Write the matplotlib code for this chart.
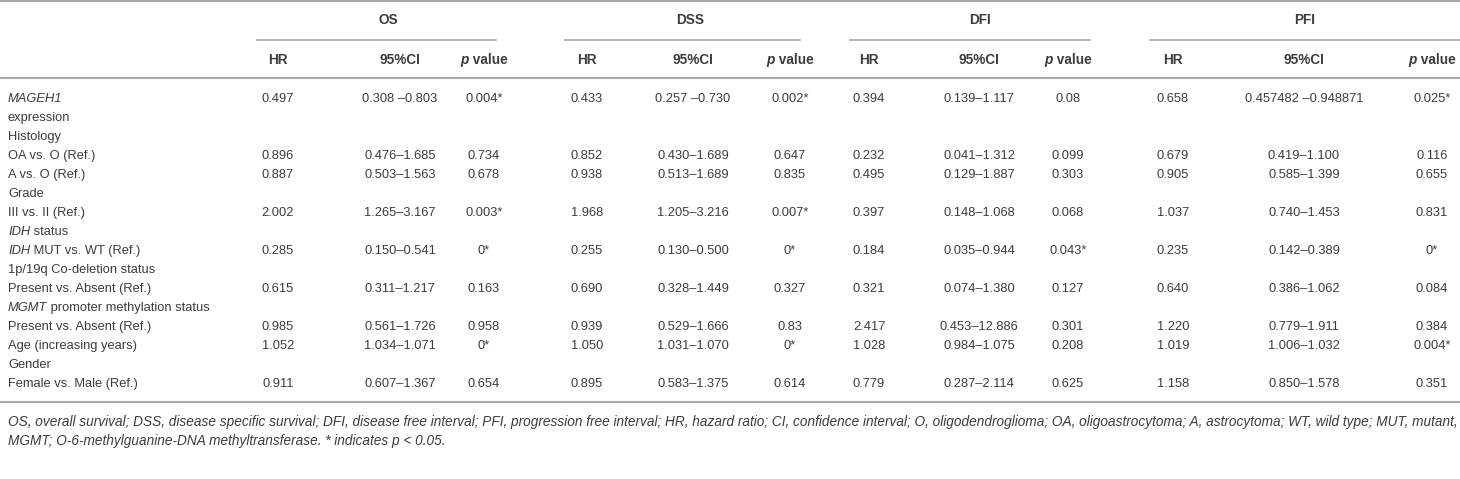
import matplotlib
matplotlib.use("Agg")
import matplotlib.pyplot as plt

plt.rcParams['font.family'] = ['Liberation Sans', 'DejaVu Sans']

# row labels: list of (text, style) runs per line
row_labels = [
    [("MAGEH1", "italic")],
    [("expression", "normal")],
    [("Histology", "normal")],
    [("OA vs. O (Ref.)", "normal")],
    [("A vs. O (Ref.)", "normal")],
    [("Grade", "normal")],
    [("III vs. II (Ref.)", "normal")],
    [("IDH", "italic"), (" status", "normal")],
    [("IDH", "italic"), (" MUT vs. WT (Ref.)", "normal")],
    [("1p/19q Co-deletion status", "normal")],
    [("Present vs. Absent (Ref.)", "normal")],
    [("MGMT", "italic"), (" promoter methylation status", "normal")],
    [("Present vs. Absent (Ref.)", "normal")],
    [("Age (increasing years)", "normal")],
    [("Gender", "normal")],
    [("Female vs. Male (Ref.)", "normal")],
]

groups = ["OS", "DSS", "DFI", "PFI"]

os_hr = ["0.497", "", "", "0.896", "0.887", "", "2.002", "", "0.285", "", "0.615", "", "0.985", "1.052", "", "0.911"]
os_ci = ["0.308 \u20130.803", "", "", "0.476\u20131.685", "0.503\u20131.563", "", "1.265\u20133.167", "",
         "0.150\u20130.541", "", "0.311\u20131.217", "", "0.561\u20131.726", "1.034\u20131.071", "", "0.607\u20131.367"]
os_p = ["0.004*", "", "", "0.734", "0.678", "", "0.003*", "", "0*", "", "0.163", "", "0.958", "0*", "", "0.654"]

dss_hr = ["0.433", "", "", "0.852", "0.938", "", "1.968", "", "0.255", "", "0.690", "", "0.939", "1.050", "", "0.895"]
dss_ci = ["0.257 \u20130.730", "", "", "0.430\u20131.689", "0.513\u20131.689", "", "1.205\u20133.216", "",
          "0.130\u20130.500", "", "0.328\u20131.449", "", "0.529\u20131.666", "1.031\u20131.070", "", "0.583\u20131.375"]
dss_p = ["0.002*", "", "", "0.647", "0.835", "", "0.007*", "", "0*", "", "0.327", "", "0.83", "0*", "", "0.614"]

dfi_hr = ["0.394", "", "", "0.232", "0.495", "", "0.397", "", "0.184", "", "0.321", "", "2.417", "1.028", "", "0.779"]
dfi_ci = ["0.139\u20131.117", "", "", "0.041\u20131.312", "0.129\u20131.887", "", "0.148\u20131.068", "",
          "0.035\u20130.944", "", "0.074\u20131.380", "", "0.453\u201312.886", "0.984\u20131.075", "", "0.287\u20132.114"]
dfi_p = ["0.08", "", "", "0.099", "0.303", "", "0.068", "", "0.043*", "", "0.127", "", "0.301", "0.208", "", "0.625"]

pfi_hr = ["0.658", "", "", "0.679", "0.905", "", "1.037", "", "0.235", "", "0.640", "", "1.220", "1.019", "", "1.158"]
pfi_ci = ["0.457482 \u20130.948871", "", "", "0.419\u20131.100", "0.585\u20131.399", "", "0.740\u20131.453", "",
          "0.142\u20130.389", "", "0.386\u20131.062", "", "0.779\u20131.911", "1.006\u20131.032", "", "0.850\u20131.578"]
pfi_p = ["0.025*", "", "", "0.116", "0.655", "", "0.831", "", "0*", "", "0.084", "", "0.384", "0.004*", "", "0.351"]

columns = [(os_hr, os_ci, os_p), (dss_hr, dss_ci, dss_p), (dfi_hr, dfi_ci, dfi_p), (pfi_hr, pfi_ci, pfi_p)]

footnote = [
    "OS, overall survival; DSS, disease specific survival; DFI, disease free interval; PFI, progression free interval; "
    "HR, hazard ratio; CI, confidence interval; O, oligodendroglioma; OA, oligoastrocytoma; A, astrocytoma; WT, wild type; MUT, mutant,",
    "MGMT; O-6-methylguanine-DNA methyltransferase. * indicates p < 0.05.",
]

# layout (pixels)
W, H = 1460, 479
col_x = [(278, 400, 484), (587, 693, 790), (869, 979, 1068), (1173, 1304, 1432)]
group_x = [388, 690, 980, 1305]
group_line = [(257, 496), (565, 800), (850, 1090), (1150, 1460)]
row0, row_step = 99, 19.0
txt_col = "#3c3c3c"
rule_col = "#a8a8a8"
fs = 9.3
fs_head = 9.8
fs_note = 9.85

fig = plt.figure(figsize=(W / 100, H / 100), dpi=100)
ax = fig.add_axes([0, 0, 1, 1])
ax.set_xlim(0, W)
ax.set_ylim(H, 0)
ax.axis("off")
renderer = fig.canvas.get_renderer()


def draw_runs(x, y, runs, ha="left", weight="normal", size=fs):
    texts = []
    for s, style in runs:
        t = ax.text(0, y, s, fontsize=size, style=style, weight=weight,
                    color=txt_col, va="center", ha="left")
        texts.append(t)
    widths = [t.get_window_extent(renderer).width for t in texts]
    total = sum(widths)
    start = x - total / 2 if ha == "center" else x
    for t, w in zip(texts, widths):
        t.set_x(start)
        start += w


# rules
ax.plot([0, W], [1, 1], color=rule_col, lw=1.5)
ax.plot([0, W], [78, 78], color=rule_col, lw=1.5)
ax.plot([0, W], [402, 402], color=rule_col, lw=1.5)
for (x0, x1) in group_line:
    ax.plot([x0, x1], [40, 40], color=rule_col, lw=1.2)

# headers
for g, gx, cx in zip(groups, group_x, col_x):
    ax.text(gx, 20, g, fontsize=fs_head, weight="bold", color=txt_col, ha="center", va="center")
    ax.text(cx[0], 60, "HR", fontsize=fs_head, weight="bold", color=txt_col, ha="center", va="center")
    ax.text(cx[1], 60, "95%CI", fontsize=fs_head, weight="bold", color=txt_col, ha="center", va="center")
    draw_runs(cx[2], 60, [("p", "italic"), (" value", "normal")], ha="center", weight="bold", size=fs_head)

# body
for i, runs in enumerate(row_labels):
    y = row0 + i * row_step
    draw_runs(8, y, runs)
    for (hr, ci, p), cx in zip(columns, col_x):
        for vals, x in zip((hr, ci, p), cx):
            if vals[i]:
                ax.text(x, y, vals[i], fontsize=fs, color=txt_col, ha="center", va="center")

# footnote
for j, line in enumerate(footnote):
    ax.text(8, 422 + j * 19, line, fontsize=fs_note, style="italic", color=txt_col, ha="left", va="center")

fig.savefig("out.png", dpi=100)
